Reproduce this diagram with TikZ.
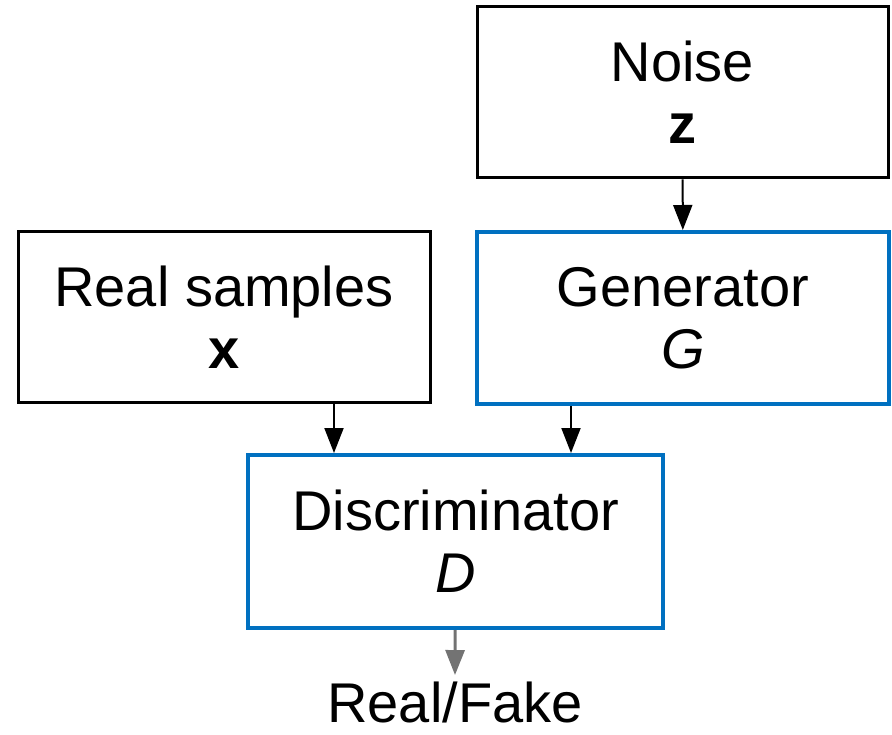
\documentclass[tikz,border=0pt]{standalone}
\usepackage{fontspec}
\setmainfont{Liberation Sans}
\usetikzlibrary{arrows.meta,positioning}

\definecolor{netblue}{RGB}{0,112,192}

\begin{document}
\begin{tikzpicture}[x=1pt,y=-1pt,
  thick,
  box/.style={rectangle,draw=black,line width=3pt,inner sep=0pt,align=center,
    font=\fontsize{56}{62}\selectfont},
  net box/.style={box,draw=netblue,line width=4pt},
  tip/.tip={Triangle[length=25pt,width=19pt]},
  flow/.style={-tip,line width=2pt}]

  \useasboundingbox (0,0) rectangle (892,735);

  \node[box,minimum width=411pt,minimum height=171pt] (noise) at (682.5,92.5) {Noise\\\textbf{z}};
  \node[box,minimum width=412pt,minimum height=170pt] (real) at (224,317) {Real samples\\\textbf{x}};
  \node[net box,minimum width=412pt,minimum height=172pt] (gen) at (683,318) {Generator\\\textit{G}};
  \node[net box,minimum width=415pt,minimum height=173pt] (disc) at (455.5,541.5) {Discriminator\\\textit{D}};
  \node[font=\fontsize{56}{62}\selectfont,anchor=base,inner sep=0pt] (out) at (455,722) {Real/Fake};

  \coordinate (inR) at ([xshift=88pt]disc.north west);
  \coordinate (inG) at ([xshift=325pt]disc.north west);

  \draw[flow] (noise) -- (gen);
  \draw[flow] (real.south -| inR) -- (inR);
  \draw[flow] (gen.south -| inG) -- (inG);
  \draw[flow,draw=black!55,fill=black,line width=3pt] (disc) -- ([yshift=6pt]out.north);
\end{tikzpicture}
\end{document}
